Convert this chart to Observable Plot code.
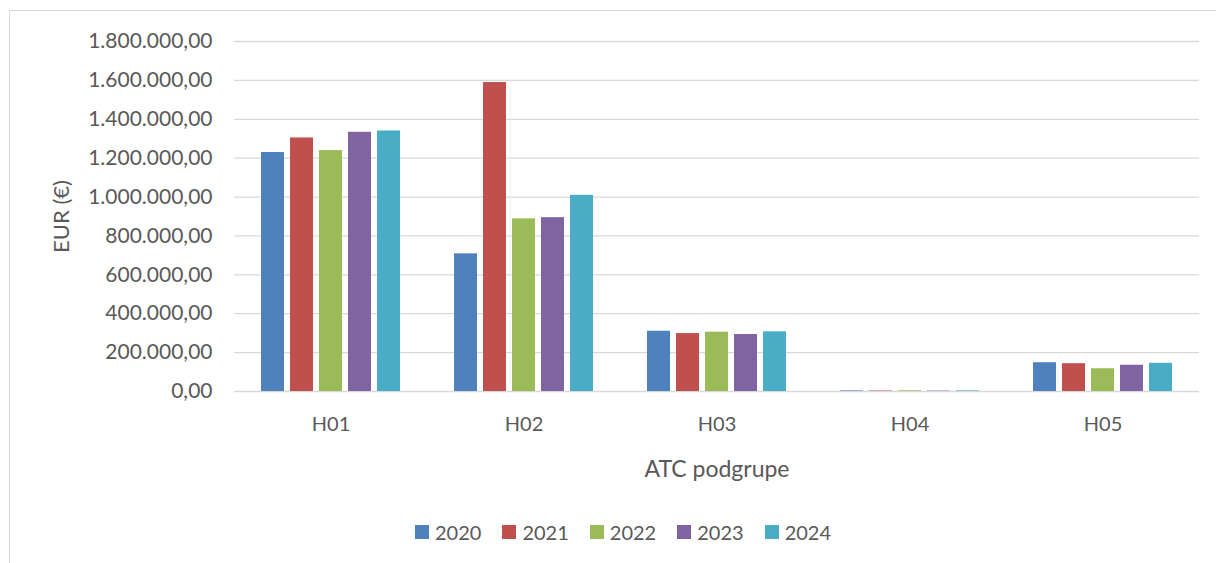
<!DOCTYPE html>
<html><head><meta charset="utf-8">
<script src="https://cdn.jsdelivr.net/npm/d3@7"></script>
<script src="https://cdn.jsdelivr.net/npm/@observablehq/plot@0.6"></script>
<style>
body{margin:0;background:#fff;font-family:Lato, sans-serif;overflow:hidden;}
#frame{position:absolute;left:9px;top:10px;width:1300px;height:700px;border:1.5px solid #d9d9d9;}
#chart{position:absolute;left:0;top:0;}
#legend{position:absolute;left:415px;top:515px;}
.lg-swatch{margin-right:21px !important;}
.lg-swatch > svg{margin-right:6px !important;}
</style>
</head><body>
<div id="frame"></div>
<div id="chart"></div>
<div id="legend"></div>
<script>
const categories = ["H01","H02","H03","H04","H05"];
const years = ["2020","2021","2022","2023","2024"];
const v2020 = [1229000, 708000, 310000, 3000, 148000];
const v2021 = [1304000, 1589000, 298000, 2500, 143000];
const v2022 = [1239000, 888000, 305000, 3500, 117000];
const v2023 = [1333000, 894000, 293000, 2000, 135000];
const v2024 = [1340000, 1009000, 307000, 3000, 145000];
const yTicks = [0,200000,400000,600000,800000,1000000,1200000,1400000,1600000,1800000];
const colors = ["#4F81BD","#C0504D","#9BBB59","#8064A2","#4BACC6"];

const series = [v2020, v2021, v2022, v2023, v2024];
const data = [];
categories.forEach((c,i) => years.forEach((y,j) => data.push({cat:c, year:y, value:series[j][i]})));

const loc = d3.formatLocale({decimal:",", thousands:".", grouping:[3], currency:["","€"]});
const fmt = loc.format(",.2f");

const plot = Plot.plot({
  width:1216, height:500,
  marginLeft:233, marginRight:16, marginTop:41, marginBottom:109,
  style:{fontFamily:"Lato, sans-serif", fontSize:"21px", color:"#595959", background:"transparent"},
  fx:{domain:categories, padding:0, label:null},
  x:{domain:years, paddingInner:0.21, paddingOuter:0.872, axis:null},
  y:{domain:[0,1800000]},
  color:{domain:years, range:colors},
  marks:[
    Plot.gridY(yTicks, {stroke:"#d9d9d9", strokeOpacity:1, strokeWidth:1.3}),
    Plot.barY(data, {fx:"cat", x:"year", y:"value", fill:"year"}),
    Plot.axisY(yTicks, {tickSize:0, tickPadding:22, tickFormat:fmt, fontSize:21, label:null}),
    Plot.axisY({tickSize:0, ticks:[], label:"EUR (€)", labelArrow:"none", labelAnchor:"center", labelOffset:181, fontSize:22}),
    Plot.axisFx({anchor:"bottom", tickSize:0, tickPadding:25, fontSize:20, label:"ATC podgrupe", labelArrow:"none", labelAnchor:"center", labelOffset:85})
  ]
});
document.getElementById("chart").appendChild(plot);
plot.querySelectorAll("[aria-label='fx-axis label'] text, [aria-label='fx-axis label']").forEach(e => e.setAttribute("font-size", "23"));

const leg = plot.legend("color", {className:"lg", swatchSize:14, style:{fontSize:"20px", fontFamily:"Lato, sans-serif", color:"#595959"}});
document.getElementById("legend").appendChild(leg);
</script>
</body></html>
